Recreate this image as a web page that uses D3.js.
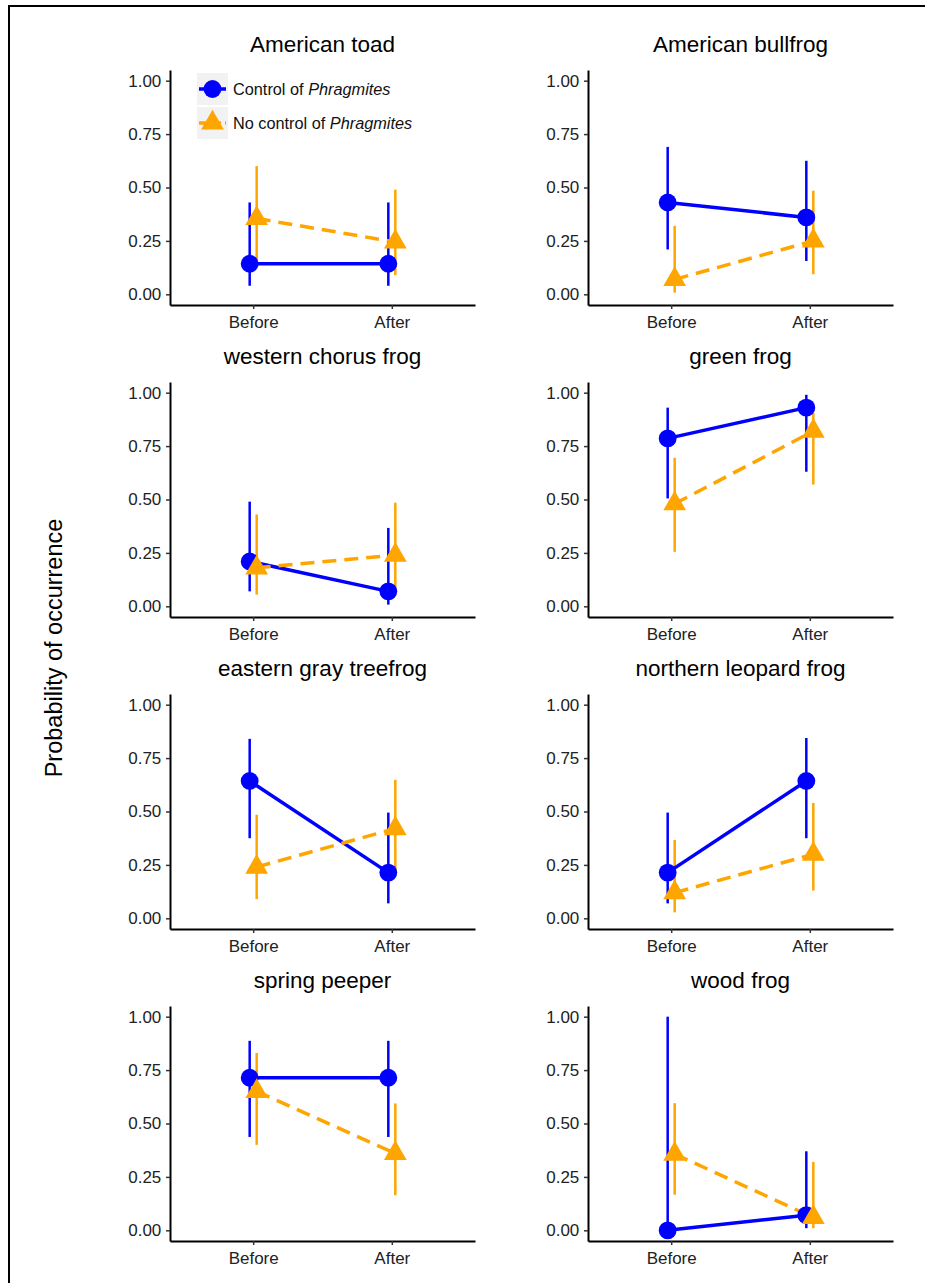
<!DOCTYPE html>
<html>
<head>
<meta charset="utf-8">
<script src="https://cdn.jsdelivr.net/npm/d3@7"></script>
<style>
  body { margin: 0; background: #fff; }
  svg { display: block; font-family: "Liberation Sans", Arial, sans-serif; }
  .tick text { fill: #222; font-size: 17px; }
  .tick line { stroke: #333; stroke-width: 1.5; }
  .domain { stroke: #000; stroke-width: 2; }
</style>
</head>
<body>
<div class="chart"></div>
<script>
// Data: one entry per species, [Before, After]
const species = ['American toad', 'American bullfrog', 'western chorus frog', 'green frog',
  'eastern gray treefrog', 'northern leopard frog', 'spring peeper', 'wood frog']
const periods = ['Before', 'After']
const yTicks = [0, 0.25, 0.5, 0.75, 1]

const controlMean = [[0.143, 0.143], [0.43, 0.36], [0.21, 0.07], [0.786, 0.93],
  [0.643, 0.214], [0.214, 0.643], [0.714, 0.714], [0, 0.071]]
const controlLow = [[0.04, 0.04], [0.21, 0.156], [0.07, 0.008], [0.505, 0.63],
  [0.375, 0.07], [0.07, 0.375], [0.437, 0.437], [0, 0.01]]
const controlHigh = [[0.43, 0.43], [0.69, 0.625], [0.49, 0.367], [0.93, 0.99],
  [0.84, 0.495], [0.495, 0.844], [0.887, 0.887], [1, 0.37]]

const noControlMean = [[0.355, 0.245], [0.07, 0.25], [0.18, 0.24], [0.48, 0.82],
  [0.24, 0.42], [0.12, 0.3], [0.65, 0.36], [0.357, 0.06]]
const noControlLow = [[0.16, 0.09], [0.008, 0.094], [0.055, 0.09], [0.255, 0.57],
  [0.09, 0.21], [0.028, 0.13], [0.4, 0.164], [0.167, 0.01]]
const noControlHigh = [[0.6, 0.49], [0.32, 0.485], [0.43, 0.485], [0.695, 0.906],
  [0.485, 0.648], [0.367, 0.54], [0.83, 0.594], [0.595, 0.32]]

const width = 925
const height = 1283

// panel grid
const colX = [170, 588]
const rowTop = [70, 382, 694, 1006]
const plotW = 305
const plotH = 235
const dodge = 3.5

const blue = '#0000ff'
const orange = '#ffa500'

const groups = [
  { name: 'Control of ', mean: controlMean, low: controlLow, high: controlHigh,
    color: blue, dash: null, shape: d3.symbolCircle, size: 250, off: -dodge },
  { name: 'No control of ', mean: noControlMean, low: noControlLow, high: noControlHigh,
    color: orange, dash: '14,8', shape: d3.symbolTriangle, size: 225, off: dodge }
]

const svg = d3.select('.chart')
  .append('svg')
  .attr('width', width)
  .attr('height', height)

// outer frame (runs off the right and bottom of the picture)
svg.append('rect')
  .attr('x', 9).attr('y', 6)
  .attr('width', 1000).attr('height', 1400)
  .attr('fill', 'none')
  .attr('stroke', '#000')
  .attr('stroke-width', 2)

const x = d3.scalePoint().domain(periods).range([0, plotW]).padding(0.6)
const y = d3.scaleLinear().domain([-0.05, 1.05]).range([plotH, 0])

species.forEach((sp, i) => {
  const g = svg.append('g')
    .attr('transform', `translate(${colX[i % 2]},${rowTop[Math.floor(i / 2)]})`)

  g.append('text')
    .attr('x', plotW / 2)
    .attr('y', -18)
    .attr('text-anchor', 'middle')
    .style('font-size', '22.5px')
    .style('fill', '#000')
    .text(sp)

  // error bars first, then lines, then points (ggplot layer order)
  groups.forEach(gr => {
    g.selectAll(null)
      .data(periods)
      .enter()
      .append('line')
      .attr('x1', (d) => x(d) + gr.off)
      .attr('x2', (d) => x(d) + gr.off)
      .attr('y1', (d, j) => y(gr.low[i][j]))
      .attr('y2', (d, j) => y(gr.high[i][j]))
      .attr('stroke', gr.color)
      .attr('stroke-width', 2.5)
  })

  groups.forEach(gr => {
    const line = d3.line()
      .x((d) => x(d) + gr.off)
      .y((d, j) => y(gr.mean[i][j]))
    g.append('path')
      .attr('d', line(periods))
      .attr('fill', 'none')
      .attr('stroke', gr.color)
      .attr('stroke-width', 3.5)
      .attr('stroke-dasharray', gr.dash)
  })

  groups.forEach(gr => {
    g.selectAll(null)
      .data(periods)
      .enter()
      .append('path')
      .attr('d', d3.symbol().type(gr.shape).size(gr.size))
      .attr('transform', (d, j) => `translate(${x(d) + gr.off},${y(gr.mean[i][j])})`)
      .attr('fill', gr.color)
  })

  g.append('g')
    .call(d3.axisLeft(y).tickValues(yTicks).tickFormat(d3.format('.2f')).tickSize(4).tickSizeOuter(0))
    .call(ax => ax.selectAll('.tick text').attr('dx', '-0.1em'))

  g.append('g')
    .attr('transform', `translate(0,${plotH})`)
    .call(d3.axisBottom(x).tickSize(4).tickSizeOuter(0))
    .call(ax => ax.selectAll('.tick text').attr('dy', '0.95em'))

  // legend lives inside the first panel
  if (i === 0) {
    const leg = g.append('g').attr('transform', 'translate(27,3)')
    groups.forEach((gr, k) => {
      const row = leg.append('g').attr('transform', `translate(0,${k * 34})`)
      row.append('rect')
        .attr('width', 31).attr('height', 32)
        .attr('fill', '#f2f2f2')
      row.append('line')
        .attr('x1', 2).attr('x2', 29)
        .attr('y1', 16).attr('y2', 16)
        .attr('stroke', gr.color)
        .attr('stroke-width', 3.5)
        .attr('stroke-dasharray', gr.dash ? '9,4' : null)
      row.append('path')
        .attr('d', d3.symbol().type(gr.shape).size(gr.size))
        .attr('transform', 'translate(15.5,16)')
        .attr('fill', gr.color)
      const t = row.append('text')
        .attr('x', 36).attr('y', 21.5)
        .style('font-size', '16.3px')
        .style('fill', '#111')
      t.append('tspan').text(gr.name)
      t.append('tspan').style('font-style', 'italic').text('Phragmites')
    })
  }
})

svg.append('text')
  .attr('transform', 'translate(62,648) rotate(-90)')
  .attr('text-anchor', 'middle')
  .style('font-size', '23.5px')
  .style('fill', '#000')
  .text('Probability of occurrence')
</script>
</body>
</html>
